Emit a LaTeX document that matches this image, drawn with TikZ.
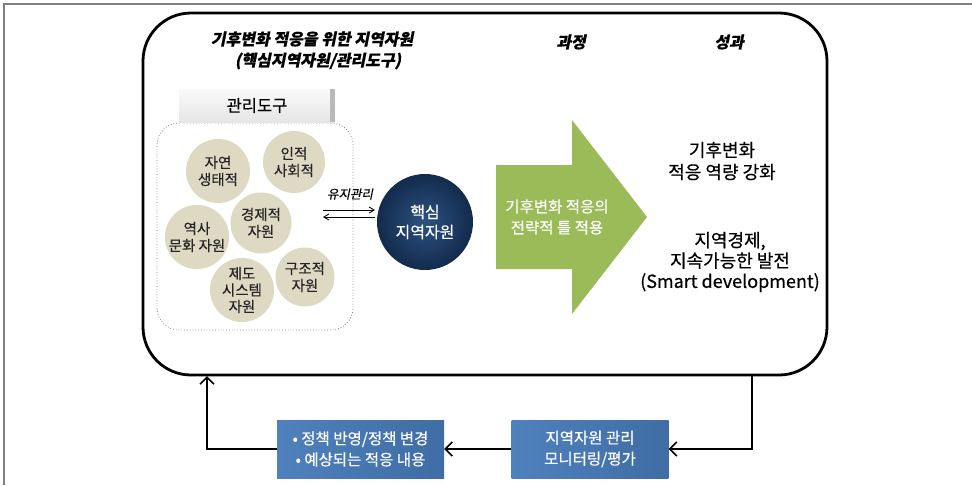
\documentclass[tikz,border=0pt]{standalone}
\usepackage{fontspec}
\setmainfont[FakeBold=0.5]{Noto Sans CJK KR}
\newfontfamily\krsl[FakeSlant=0.2,FakeBold=0.4]{Noto Sans CJK KR}
\usetikzlibrary{arrows.meta}
\definecolor{beige}{HTML}{DDD9C3}
\definecolor{navyin}{HTML}{2C5283}
\definecolor{navyout}{HTML}{132B4C}
\definecolor{leaf}{HTML}{9BBB59}
\definecolor{boxblue}{HTML}{4F81BD}
\definecolor{boxblued}{HTML}{3F6DA5}
\definecolor{frame}{HTML}{808080}
\tikzset{
  titletxt/.style={font=\krsl\bfseries\fontsize{16}{19}\selectfont, inner sep=0},
  res/.style={circle, fill=beige, minimum size=#1, inner sep=0, align=center,
    text=black!85, font=\fontsize{14.5}{17}\selectfont},
  core/.style={circle, inner color=navyin, outer color=navyout, minimum size=96pt,
    inner sep=0, align=center, text=white, font=\fontsize{16}{20}\selectfont},
  bluebox/.style={rectangle, left color=boxblue, right color=boxblued, minimum height=58pt,
    inner sep=0, align=center, text=white, font=\fontsize{15.5}{21}\selectfont},
  conn/.style={line width=1.6pt, black},
  tip/.style={-{Straight Barb[length=7pt,width=14pt,line width=1.6pt]}},
  smalltip/.style={-{Straight Barb[length=5pt,width=6pt,line width=0.9pt]}},
}
\begin{document}
\begin{tikzpicture}[x=1pt,y=-1pt]
\useasboundingbox (0,0) rectangle (972,485);
% outer frame
\draw[frame, line width=1.3pt] (4,485) -- (4,4) -- (972,4);
% main rounded box
\node[draw, line width=2.8pt, rounded corners=48pt, minimum width=684pt,
  minimum height=362pt, inner sep=0] (main) at (485,194) {};
% titles
\node[titletxt] (t1) at (312,39) {기후변화 적응을 위한 지역자원};
\node[titletxt] (t2) at (318,61) {(핵심지역자원/관리도구)};
\node[titletxt] (t3) at (571,42) {과정};
\node[titletxt] (t4) at (729,42) {성과};
% dotted pool box
\node[draw=gray, dotted, line width=0.8pt, rounded corners=22pt, minimum width=196pt,
  minimum height=207pt, inner sep=0] (pool) at (255,226.5) {};
% tools label box
\node[rectangle, top color=gray!4, bottom color=gray!20, minimum width=156pt,
  minimum height=33pt, inner sep=0, font=\fontsize{16.5}{19}\selectfont,
  path picture={\fill[gray!55] ([xshift=-5pt]path picture bounding box.north east)
     rectangle (path picture bounding box.south east);}]
  (tools) at (257,105.5) {관리도구};
% resource circles
\node[res=64pt] (c1) at (218,171) {자연\\생태적};
\node[res=62pt] (c2) at (294,162) {인적\\사회적};
\node[res=61pt] (c3) at (261,223) {경제적\\자원};
\node[res=64pt] (c4) at (197,237) {역사\\문화 자원};
\node[res=64pt, font=\fontsize{14.5}{16.5}\selectfont] (c5) at (242,290) {제도\\시스템\\자원};
\node[res=59pt] (c6) at (305,277) {구조적\\자원};
% core resource
\node[core] (core) at (425,222) {핵심\\지역자원};
% maintenance arrows
\node[font=\krsl\fontsize{12.5}{14}\selectfont, inner sep=0] (maint) at (350,194) {유지관리};
\coordinate (a1) at (323,210);
\coordinate (a2) at (375,210);
\coordinate (b1) at (375,217);
\coordinate (b2) at (323,217);
\draw[line width=0.9pt, smalltip] (a1) -- (a2);
\draw[line width=0.9pt, smalltip] (b1) -- (b2);
% green arrow
\fill[leaf] (496,165) -- (572,165) -- (572,120) -- (647,217) -- (572,314)
  -- (572,269) -- (496,269) -- cycle;
\node[text=white, align=center, font=\fontsize{15.5}{21}\selectfont] (strat) at (557,217)
  {기후변화 적응의\\전략적 틀 적용};
% outcomes
\node[align=center, font=\fontsize{18}{22}\selectfont] (out1) at (722,161)
  {기후변화\\적응 역량 강화};
\node[align=center, font=\fontsize{18}{20.5}\selectfont] (out2) at (730,262)
  {지역경제,\\지속가능한 발전\\(Smart development)};
% feedback boxes
\node[bluebox, minimum width=167pt] (pol) at (360.5,449) {• 정책 반영/정책 변경\\• 예상되는 적응 내용};
\node[bluebox, minimum width=157pt] (mon) at (590,449) {지역자원 관리\\모니터링/평가};
\coordinate (rt) at (752,375);
\coordinate (lt) at (207,376);
\draw[conn, tip] (rt) |- (mon.east);
\draw[conn, tip] (mon.west) -- (pol.east);
\draw[conn, tip] (pol.west) -| (lt);
\end{tikzpicture}
\end{document}
